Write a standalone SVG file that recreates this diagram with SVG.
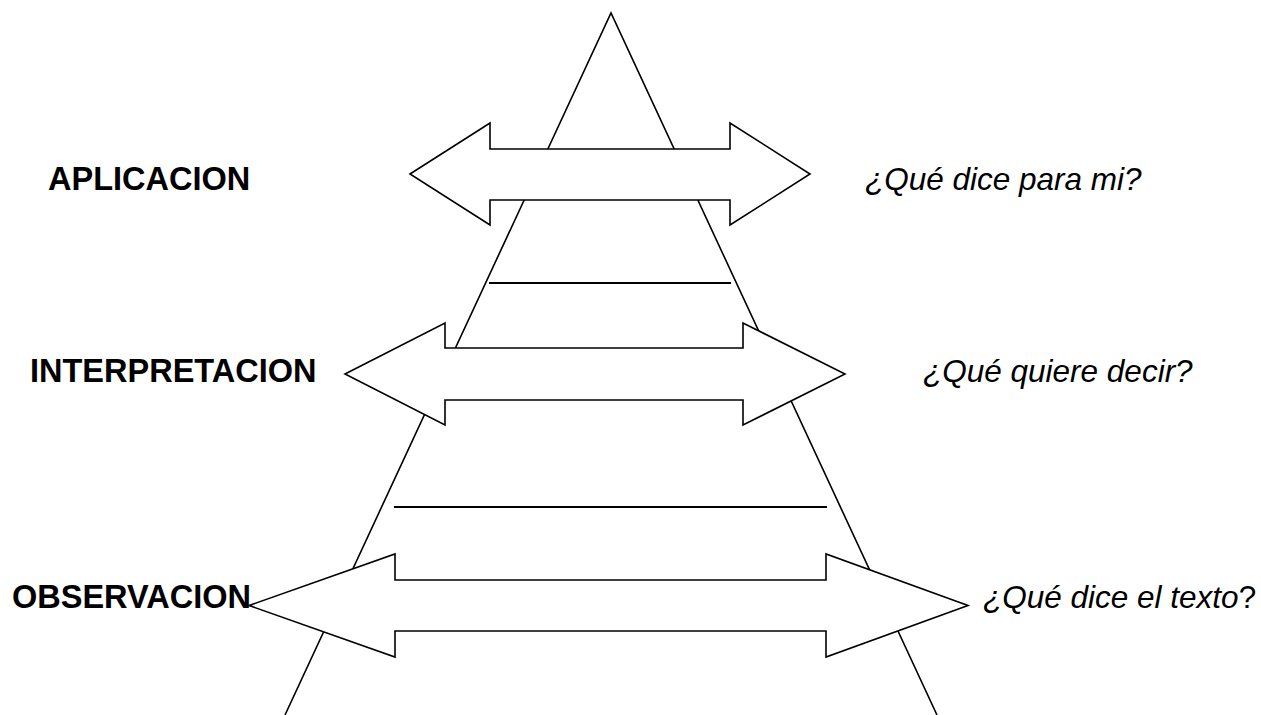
<svg xmlns="http://www.w3.org/2000/svg" width="1261" height="715" viewBox="0 0 1261 715">
  <style>
    .shape { fill: #ffffff; stroke: #000000; stroke-width: 1.6; stroke-linejoin: miter; }
    .side { fill: none; stroke: #000000; stroke-width: 1.6; }
    .level { stroke: #000000; stroke-width: 2.2; }
    .label { font-family: "Liberation Sans", Arial, sans-serif; font-weight: bold; font-size: 32.5px; fill: #000000; }
    .question { font-family: "Liberation Sans", Arial, sans-serif; font-style: italic; font-size: 31.5px; fill: #000000; }
  </style>
  <rect width="1261" height="715" fill="#ffffff"/>

  <g id="pyramid">
    <polyline class="side" points="285,715 611,13 937,715"/>
    <line class="level" x1="489" y1="283" x2="731" y2="283"/>
    <line class="level" x1="394" y1="507" x2="827" y2="507"/>
  </g>

  <g id="connectors">
    <polygon id="arrow-aplicacion" class="shape" points="410,174 490,123 490,149 730,149 730,123 810,174 730,225 730,200 490,200 490,225"/>
    <polygon id="arrow-interpretacion" class="shape" points="345,374 445,323 445,348 743,348 743,323 845,374 743,425 743,400 445,400 445,425"/>
    <polygon id="arrow-observacion" class="shape" points="249,605.5 395,554 395,580 826,580 826,554 968,605.5 826,657 826,631 395,631 395,657"/>
  </g>

  <g id="node-aplicacion">
    <text class="label" x="48" y="190">APLICACION</text>
    <text class="question" x="865" y="190">¿Qué dice para mi?</text>
  </g>
  <g id="node-interpretacion">
    <text class="label" x="30" y="382">INTERPRETACION</text>
    <text class="question" x="923" y="382">¿Qué quiere decir?</text>
  </g>
  <g id="node-observacion">
    <text class="label" x="12" y="608">OBSERVACION</text>
    <text class="question" x="983" y="608">¿Qué dice el texto<tspan font-style="normal">?</tspan></text>
  </g>
</svg>
